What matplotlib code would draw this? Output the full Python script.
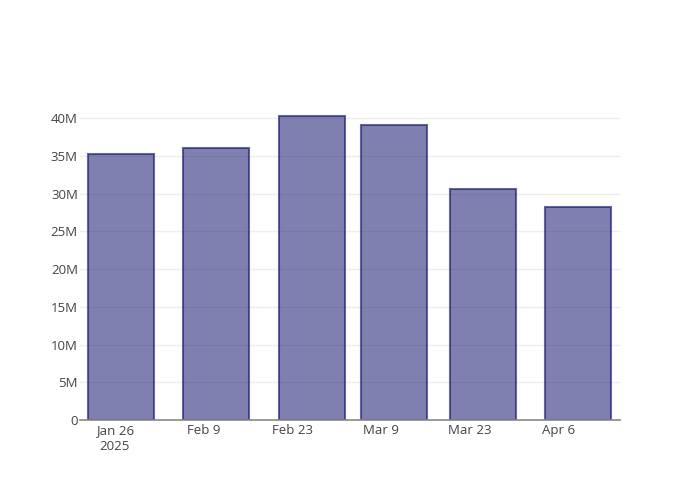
import matplotlib
matplotlib.use('Agg')
import matplotlib.pyplot as plt
import matplotlib.dates as mdates
from datetime import datetime, timedelta

# Bar dates and values
dates = ['2025-01-27', '2025-02-11', '2025-02-26', '2025-03-11', '2025-03-25', '2025-04-09']
values = [35.2e6, 36.0e6, 40.3e6, 39.1e6, 30.6e6, 28.2e6]

tick_dates = ['2025-01-26', '2025-02-09', '2025-02-23', '2025-03-09', '2025-03-23', '2025-04-06']
tick_labels = ['Jan 26\n2025', 'Feb 9', 'Feb 23', 'Mar 9', 'Mar 23', 'Apr 6']

y_ticks = [0, 5e6, 10e6, 15e6, 20e6, 25e6, 30e6, 35e6, 40e6]
y_labels = ['0', '5M', '10M', '15M', '20M', '25M', '30M', '35M', '40M']

plt.rcParams['font.family'] = ['Open Sans', 'DejaVu Sans']


def to_num(ds):
    return mdates.date2num([datetime.strptime(d, '%Y-%m-%d') for d in ds])


fig = plt.figure(figsize=(7, 5), dpi=100)
ax = fig.add_axes([80 / 700, 80 / 500, 540 / 700, 320 / 500])

# gridlines under the semi-transparent bars
ax.grid(True, axis='y', color='#eeeeee', linewidth=1, zorder=0)
ax.set_axisbelow(True)

ax.bar(to_num(dates), values, width=10.4, color=(25/255, 25/255, 112/255, 0.55),
       edgecolor=(25/255, 25/255, 112/255, 0.65), linewidth=1.5, zorder=2)

left = datetime(2025, 1, 26) - timedelta(days=5.52)
ax.set_xlim(mdates.date2num(left), mdates.date2num(left + timedelta(days=85.17)))
ax.set_ylim(0, 42.4e6)

ax.set_xticks(to_num(tick_dates))
ax.set_xticklabels(tick_labels, fontsize=9.5, color='#444444', linespacing=1.3)
ax.set_yticks(y_ticks)
ax.set_yticklabels(y_labels, fontsize=9.5, color='#444444')

ax.tick_params(axis='x', length=0, pad=3)
ax.tick_params(axis='y', length=0, pad=1.5)

for s in ['top', 'right', 'left']:
    ax.spines[s].set_visible(False)
ax.spines['bottom'].set_color('#888888')
ax.spines['bottom'].set_linewidth(1.2)
ax.spines['bottom'].set_zorder(4)

fig.savefig('out.png', dpi=100)
